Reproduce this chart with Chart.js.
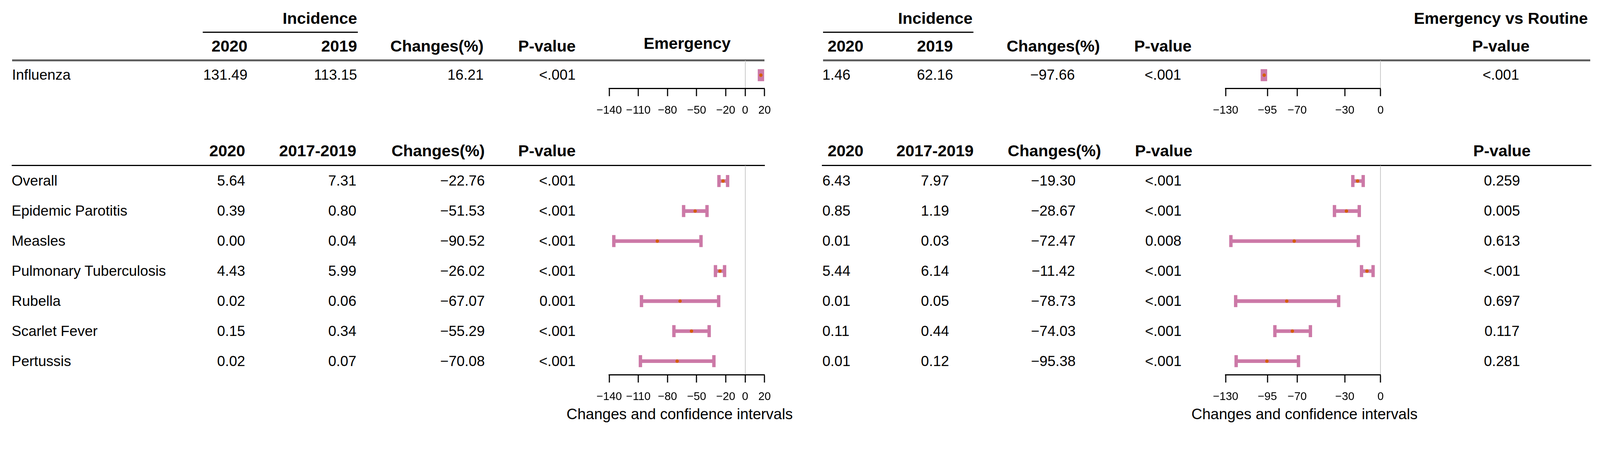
<!DOCTYPE html>
<html><head><meta charset="utf-8">
<script src="https://cdn.jsdelivr.net/npm/chart.js@4.4.1/dist/chart.umd.min.js"></script>
<style>
html,body{margin:0;padding:0;background:#fff;overflow:hidden;}
body{position:relative;font-family:"Liberation Sans",Arial,Helvetica,sans-serif;color:#000;}
.t{position:absolute;white-space:nowrap;line-height:1;}
.hl{position:absolute;}
canvas{position:absolute;}
</style></head><body>
<script>
// ---------- data ----------
const fluLabel = ['Influenza'];
const fluEmer2020 = [131.49];
const fluEmer2019 = [113.15];
const fluEmerChange = [16.21];
const fluEmerP = ['<.001'];
const fluEmerLo = [14.7];
const fluEmerHi = [17.8];
const fluRout2020 = [1.46];
const fluRout2019 = [62.16];
const fluRoutChange = [-97.66];
const fluRoutP = ['<.001'];
const fluRoutLo = [-99.2];
const fluRoutHi = [-96.6];
const fluCompareP = ['<.001'];

const categories = ['Overall','Epidemic Parotitis','Measles','Pulmonary Tuberculosis','Rubella','Scarlet Fever','Pertussis'];
const emer2020 = [5.64,0.39,0.00,4.43,0.02,0.15,0.02];
const emerBase = [7.31,0.80,0.04,5.99,0.06,0.34,0.07];
const emerChange = [-22.76,-51.53,-90.52,-26.02,-67.07,-55.29,-70.08];
const emerP = ['<.001','<.001','<.001','<.001','0.001','<.001','<.001'];
const emerLo = [-27.0,-63.4,-135.3,-30.6,-106.8,-73.4,-107.9];
const emerHi = [-18.1,-39.3,-45.5,-21.2,-27.3,-37.1,-32.2];

const rout2020 = [6.43,0.85,0.01,5.44,0.01,0.11,0.01];
const routBase = [7.97,1.19,0.03,6.14,0.05,0.44,0.12];
const routChange = [-19.30,-28.67,-72.47,-11.42,-78.73,-74.03,-95.38];
const routP = ['<.001','<.001','0.008','<.001','<.001','<.001','<.001'];
const routLo = [-23.3,-38.7,-125.6,-16.0,-121.6,-88.7,-121.2];
const routHi = [-14.6,-17.9,-18.7,-6.3,-35.2,-58.9,-68.9];
const compareP = ['0.259','0.005','0.613','<.001','0.697','0.117','0.281'];

const leftTicks = [-140,-110,-80,-50,-20,0,20];
const rightTicks = [-130,-95,-70,-30,0];
const axisTitle = 'Changes and confidence intervals';

// ---------- helpers ----------
const W0 = 4261, H0 = 1157;
const S = Math.min((window.innerWidth || W0) / W0, (window.innerHeight || H0) / H0);
document.body.style.width = (W0 * S) + 'px';
document.body.style.height = (H0 * S) + 'px';
const FONT = '"Liberation Sans", Arial, Helvetica, sans-serif';
const BODY_SIZE = 38.5, HEAD_SIZE = 43;

function fmt2(v){ return (v<0?'\u2212':'') + Math.abs(v).toFixed(2); }
function fmtTick(v){ return v<0 ? '\u2212'+Math.abs(v) : String(v); }
function txt(s, x, y, align, bold, size){
  const d = document.createElement('div');
  d.className = 't';
  d.textContent = s;
  d.style.fontSize = ((size || (bold ? HEAD_SIZE : BODY_SIZE)) * S) + 'px';
  if (bold) d.style.fontWeight = 'bold';
  d.style.left = (x * S) + 'px';
  d.style.top = (y * S) + 'px';
  const tx = align === 'r' ? '-100%' : (align === 'c' ? '-50%' : '0');
  d.style.transform = 'translate(' + tx + ',-50%)';
  document.body.appendChild(d);
}
function hline(x1, x2, y, th, color){
  const d = document.createElement('div');
  d.className = 'hl';
  d.style.left = (x1 * S) + 'px'; d.style.width = ((x2 - x1) * S) + 'px';
  d.style.top = ((y - th/2) * S) + 'px'; d.style.height = (th * S) + 'px';
  d.style.background = color;
  document.body.appendChild(d);
}

function forest(cfg){
  const PAD = 60;
  const c = document.createElement('canvas');
  c.width = Math.round((cfg.plotW + 2*PAD) * S);
  c.height = Math.round((cfg.plotH + cfg.axisH) * S);
  c.style.left = ((cfg.left - PAD) * S) + 'px';
  c.style.top = (cfg.top * S) + 'px';
  document.body.appendChild(c);
  const pts = cfg.change.map((v,i)=>({x:v, y:i}));
  const caps = cfg.lo.map((v,i)=>({x:v, y:i})).concat(cfg.hi.map((v,i)=>({x:v, y:i})));
  const bars = cfg.lo.map((v,i)=>({y:i, x:[v, cfg.hi[i]]}));
  new Chart(c, {
    type: 'scatter',
    data: { datasets: [
      { type:'scatter', data: pts, pointRadius:4.5*S, pointHoverRadius:4.5*S, pointBackgroundColor:'#D55E00', pointBorderWidth:0, clip:false, order:0 },
      { type:'scatter', data: caps, pointStyle:'line', pointRotation:90, pointRadius:16*S, pointHoverRadius:16*S, pointBorderWidth:9*S, pointBorderColor:'#CC79A7', clip:false, order:1 },
      { type:'bar', indexAxis:'y', data: bars, backgroundColor:'#CC79A7', barThickness:9*S, borderWidth:0, clip:false, order:2 }
    ]},
    options: {
      responsive:false, animation:false, events:[],
      layout:{ autoPadding:false, padding:{ left:PAD*S, right:PAD*S, top:0, bottom:0 } },
      plugins:{ legend:{display:false}, tooltip:{enabled:false} },
      scales: {
        x: {
          type:'linear', position:'bottom', min:cfg.xmin, max:cfg.xmax, offset:false, beginAtZero:false, grace:0,
          afterBuildTicks: s => { s.ticks = cfg.ticks.map(v => ({value:v})); },
          afterFit: s => { s.height = cfg.axisH * S; },
          ticks:{ autoSkip:false, maxRotation:0, minRotation:0, padding:20*S, color:'#000',
                  font:{ family:FONT, size:30*S }, callback: v => fmtTick(v) },
          grid:{ offset:false, drawOnChartArea:true, drawTicks:true,
                 color: ctx => (ctx.tick && ctx.tick.value === 0) ? '#c8c8c8' : 'rgba(0,0,0,0)',
                 lineWidth:2*S, tickColor:'#000', tickWidth:3*S, tickLength:21*S },
          border:{ display:true, color:'#000', width:3*S },
          title:{ display:false }
        },
        y: { type:'linear', display:false, min:cfg.yMin, max:cfg.yMax, reverse:true,
             offset:false, beginAtZero:false, grace:0, grid:{ offset:false } }
      }
    }
  });
}

// ---------- top section (Influenza) ----------
txt('Incidence', 951, 50, 'r', true);
hline(540, 953, 86, 3, '#000');
txt('2020', 659, 124, 'r', true);
txt('2019', 951, 124, 'r', true);
txt('Changes(%)', 1288, 124, 'r', true);
txt('P-value', 1533, 124, 'r', true);
txt('Emergency', 1830, 117, 'c', true);
hline(32, 2036, 161, 5, '#606060');

txt('Incidence', 2590, 50, 'r', true);
hline(2192, 2592, 86, 3, '#000');
txt('2020', 2204, 124, 'l', true);
txt('2019', 2490, 124, 'c', true);
txt('Changes(%)', 2805, 124, 'c', true);
txt('P-value', 3097, 124, 'c', true);
txt('Emergency vs Routine', 3997, 50, 'c', true);
txt('P-value', 3997, 124, 'c', true);
hline(2192, 4235, 161, 5, '#606060');

fluLabel.forEach((lab, i) => {
  const y = 200 + i*80;
  txt(lab, 32, y, 'l');
  txt(fmt2(fluEmer2020[i]), 659, y, 'r');
  txt(fmt2(fluEmer2019[i]), 951, y, 'r');
  txt(fmt2(fluEmerChange[i]), 1288, y, 'r');
  txt(fluEmerP[i], 1533, y, 'r');
  txt(fmt2(fluRout2020[i]), 2190, y, 'l');
  txt(fmt2(fluRout2019[i]), 2490, y, 'c');
  txt(fmt2(fluRoutChange[i]), 2803, y, 'c');
  txt(fluRoutP[i], 3097, y, 'c');
  txt(fluCompareP[i], 3997, y, 'c');
});

forest({ left:1622, top:161, plotW:414, plotH:74, axisH:78, xmin:-140, xmax:20, ticks:leftTicks,
         yMin:-0.4875, yMax:0.4375, change:fluEmerChange, lo:fluEmerLo, hi:fluEmerHi });
forest({ left:3264, top:161, plotW:413, plotH:74, axisH:78, xmin:-130, xmax:0, ticks:rightTicks,
         yMin:-0.4875, yMax:0.4375, change:fluRoutChange, lo:fluRoutLo, hi:fluRoutHi });

// ---------- bottom section ----------
txt('2020', 653, 403, 'r', true);
txt('2017-2019', 949, 403, 'r', true);
txt('Changes(%)', 1291, 403, 'r', true);
txt('P-value', 1533, 403, 'r', true);
hline(31, 2037, 441, 3, '#000');

txt('2020', 2204, 403, 'l', true);
txt('2017-2019', 2490, 403, 'c', true);
txt('Changes(%)', 2808, 403, 'c', true);
txt('P-value', 3099, 403, 'c', true);
txt('P-value', 4000, 403, 'c', true);
hline(2189, 4238, 441, 3, '#000');

categories.forEach((lab, i) => {
  const y = 482 + i*80;
  txt(lab, 31, y, 'l');
  txt(fmt2(emer2020[i]), 653, y, 'r');
  txt(fmt2(emerBase[i]), 949, y, 'r');
  txt(fmt2(emerChange[i]), 1291, y, 'r');
  txt(emerP[i], 1533, y, 'r');
  txt(fmt2(rout2020[i]), 2190, y, 'l');
  txt(fmt2(routBase[i]), 2490, y, 'c');
  txt(fmt2(routChange[i]), 2805, y, 'c');
  txt(routP[i], 3098, y, 'c');
  txt(compareP[i], 4000, y, 'c');
});

forest({ left:1622, top:441, plotW:414, plotH:557, axisH:78, xmin:-140, xmax:20, ticks:leftTicks,
         yMin:-0.5125, yMax:6.45, change:emerChange, lo:emerLo, hi:emerHi });
forest({ left:3264, top:441, plotW:413, plotH:557, axisH:78, xmin:-130, xmax:0, ticks:rightTicks,
         yMin:-0.5125, yMax:6.45, change:routChange, lo:routLo, hi:routHi });

txt(axisTitle, 1810, 1103, 'c', false, 40);
txt(axisTitle, 3474, 1103, 'c', false, 40);
</script>
</body></html>
